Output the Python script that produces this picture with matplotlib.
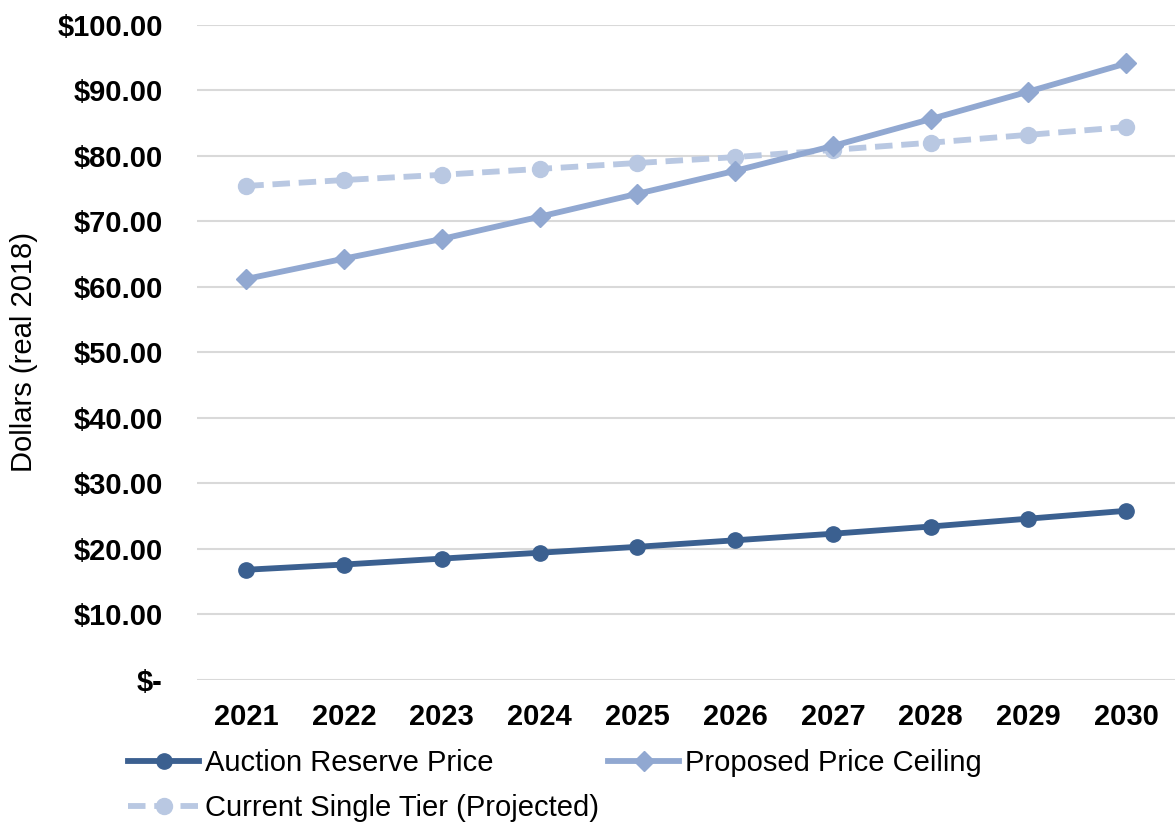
import matplotlib.pyplot as plt
from matplotlib.ticker import FuncFormatter

plt.rcParams['font.family'] = ['Liberation Sans', 'DejaVu Sans']

years = ['2021', '2022', '2023', '2024', '2025', '2026', '2027', '2028', '2029', '2030']
reserve_price = [16.8, 17.6, 18.5, 19.4, 20.3, 21.3, 22.3, 23.4, 24.6, 25.8]
price_ceiling = [61.2, 64.3, 67.3, 70.7, 74.2, 77.7, 81.5, 85.6, 89.8, 94.1]
single_tier = [75.4, 76.3, 77.1, 78.0, 78.9, 79.8, 80.9, 82.0, 83.2, 84.4]

fig = plt.figure(figsize=(11.75, 8.27), dpi=100)
ax = fig.add_axes([0.168, 0.178, 0.832, 0.792])

x = list(range(len(years)))
l1, = ax.plot(x, reserve_price, color='#3b6090', lw=4.2, marker='o', ms=11,
              label='Auction Reserve Price', zorder=3)
l2, = ax.plot(x, price_ceiling, color='#91a8d1', lw=4.2, marker='D', ms=10,
              label='Proposed Price Ceiling', zorder=3)
l3, = ax.plot(x, single_tier, color='#b9c8e2', lw=4.2, ls=(0, (3, 1.5)), marker='o', ms=11.5,
              label='Current Single Tier (Projected)', zorder=2)

ax.set_xlim(-0.5, len(years) - 0.5)
ax.set_ylim(0, 100)
ax.set_yticks(range(0, 101, 10))
ax.yaxis.set_major_formatter(FuncFormatter(lambda v, p: '$-' if v == 0 else f'${v:.2f}'))
ax.set_xticks(x)
ax.set_xticklabels(years)
ax.tick_params(axis='both', length=0, labelsize=21)
for lbl in ax.get_xticklabels() + ax.get_yticklabels():
    lbl.set_fontweight('bold')
ax.tick_params(axis='y', pad=25)
ax.tick_params(axis='x', pad=17)

ax.grid(axis='y', color='#d9d9d9', lw=1.5)
ax.set_axisbelow(True)
for s in ax.spines.values():
    s.set_visible(False)

ax.set_ylabel('Dollars (real 2018)', fontsize=21, labelpad=14)

# column-major fill: first column gets reserve + single tier, second gets ceiling
ax.legend([l1, l3, l2], [l1.get_label(), l3.get_label(), l2.get_label()],
          loc='upper left', bbox_to_anchor=(-0.083, -0.088), ncol=2, frameon=False,
          fontsize=21, handlelength=2.45, handletextpad=0.2, columnspacing=0.3,
          labelspacing=0.58, borderaxespad=0)

fig.savefig('out.png', dpi=100)
